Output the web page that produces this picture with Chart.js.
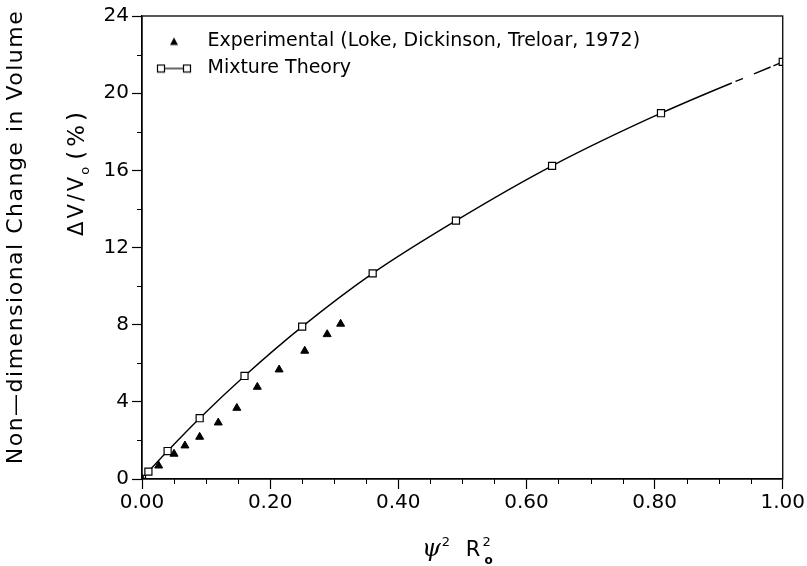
<!DOCTYPE html>
<html>
<head>
<meta charset="utf-8">
<script src="https://cdn.jsdelivr.net/npm/chart.js@4.4.0/dist/chart.umd.min.js"></script>
<style>
  html, body { margin: 0; padding: 0; background: #fff; }
</style>
</head>
<body>
<canvas id="volumeChart" width="807" height="566"></canvas>
<script>
// Mixture theory (open squares + line)
const theoryX = [0, 0.01, 0.04, 0.09, 0.16, 0.25, 0.36, 0.49, 0.64, 0.81, 1.00];
const theoryY = [0, 0.38, 1.45, 3.15, 5.34, 7.90, 10.66, 13.39, 16.23, 18.96, 21.62];

// Experimental (Loke, Dickinson, Treloar, 1972) - filled triangles
const expX = [0, 0.026, 0.050, 0.067, 0.090, 0.119, 0.148, 0.180, 0.214, 0.254, 0.289, 0.310];
const expY = [0, 0.69, 1.30, 1.73, 2.18, 2.92, 3.68, 4.77, 5.67, 6.64, 7.50, 8.04];

// axis ticks
const xTickValues = [0, 0.2, 0.4, 0.6, 0.8, 1.0];
const xTickLabels = ['0.00', '0.20', '0.40', '0.60', '0.80', '1.00'];
const yTickValues = [0, 4, 8, 12, 16, 20, 24];
const yTickLabels = ['0', '4', '8', '12', '16', '20', '24'];

const seriesNames = ['Experimental (Loke, Dickinson, Treloar, 1972)', 'Mixture Theory'];

const tickFont = { family: 'DejaVu Sans', size: 20 };

// legend icons
function triangleIcon() {
  const c = document.createElement('canvas');
  c.width = 10; c.height = 10;
  const g = c.getContext('2d');
  g.fillStyle = '#000';
  g.beginPath();
  g.moveTo(5, 1); g.lineTo(9, 8.5); g.lineTo(1, 8.5);
  g.closePath();
  g.fill();
  return c;
}

function theoryIcon() {
  const c = document.createElement('canvas');
  c.width = 36; c.height = 10;
  const g = c.getContext('2d');
  g.strokeStyle = '#000';
  g.lineWidth = 1.2;
  g.beginPath();
  g.moveTo(8, 5); g.lineTo(28, 5);
  g.stroke();
  g.fillStyle = '#fff';
  g.fillRect(1.5, 1.5, 7, 7); g.strokeRect(1.5, 1.5, 7, 7);
  g.fillRect(27.5, 1.5, 7, 7); g.strokeRect(27.5, 1.5, 7, 7);
  return c;
}

// frame, minor ticks and the axis titles
const decorations = {
  id: 'decorations',
  afterDraw(chart) {
    const { ctx, chartArea: a, scales } = chart;
    ctx.save();
    ctx.strokeStyle = '#000';
    ctx.lineWidth = 1.3;
    ctx.strokeRect(a.left, a.top, a.right - a.left, a.bottom - a.top);

    // minor ticks
    ctx.lineWidth = 1;
    ctx.beginPath();
    for (let i = 1; i < 20; i++) {
      if (i % 4 === 0) continue;
      const px = Math.round(scales.x.getPixelForValue(i * 0.05)) + 0.5;
      ctx.moveTo(px, a.bottom); ctx.lineTo(px, a.bottom + 5);
    }
    for (let v = 2; v < 24; v += 4) {
      const py = Math.round(scales.y.getPixelForValue(v)) + 0.5;
      ctx.moveTo(a.left, py); ctx.lineTo(a.left - 5, py);
    }
    ctx.stroke();

    ctx.fillStyle = '#000';
    ctx.textBaseline = 'middle';

    // outer y title
    ctx.save();
    ctx.translate(16, 237);
    ctx.rotate(-Math.PI / 2);
    ctx.font = '22px "DejaVu Sans"';
    ctx.letterSpacing = '1.5px';
    ctx.textAlign = 'center';
    ctx.fillText('Non\u2014dimensional Change in Volume', 0, 0);
    ctx.restore();

    // inner y title: dV/V0 (%)
    ctx.save();
    ctx.translate(78, 172);
    ctx.rotate(-Math.PI / 2);
    ctx.textAlign = 'left';
    ctx.letterSpacing = '3px';
    ctx.font = '21px "DejaVu Sans"';
    const p1 = '\u0394V/V', p3 = '(%)';
    const w1 = ctx.measureText(p1).width;
    ctx.letterSpacing = '4px';
    ctx.font = '23px "DejaVu Sans"';
    const w3 = ctx.measureText(p3).width;
    const w2 = 14;
    let x0 = -(w1 + w2 + w3) / 2;
    ctx.letterSpacing = '3px';
    ctx.font = '21px "DejaVu Sans"';
    ctx.fillText(p1, x0, 0);
    ctx.font = '13px "DejaVu Sans"';
    ctx.fillText('o', x0 + w1 - 1, 8);
    ctx.letterSpacing = '4px';
    ctx.font = '23px "DejaVu Sans"';
    ctx.fillText(p3, x0 + w1 + w2, 0);
    ctx.restore();

    // x title: psi^2 R^2_0
    ctx.textAlign = 'left';
    ctx.textBaseline = 'alphabetic';
    const base = 556;
    let x = 422;
    ctx.font = 'italic 24px "DejaVu Serif"';
    ctx.fillText('\u03c8', x, base);
    x += ctx.measureText('\u03c8').width + 1;
    ctx.font = '13px "DejaVu Sans"';
    ctx.fillText('2', x, base - 10);
    x += 24;
    ctx.font = '21px "DejaVu Sans"';
    ctx.fillText('R', x, base);
    x += ctx.measureText('R').width + 2;
    ctx.font = '13px "DejaVu Sans"';
    ctx.fillText('2', x, base - 10);
    ctx.font = 'bold 12px "DejaVu Sans"';
    ctx.fillText('o', x + 2, base + 8);
    ctx.restore();
  }
};

const ctx = document.getElementById('volumeChart').getContext('2d');
const volumeChart = new Chart(ctx, {
  type: 'scatter',
  data: {
    datasets: [
      {
        label: seriesNames[0],
        data: expX.map((v, i) => ({ x: v, y: expY[i] })),
        showLine: false,
        pointStyle: 'triangle',
        pointRadius: 4.6,
        backgroundColor: '#000',
        borderColor: '#000',
        borderWidth: 1
      },
      {
        label: seriesNames[1],
        data: theoryX.map((v, i) => ({ x: v, y: theoryY[i] })),
        showLine: true,
        cubicInterpolationMode: 'monotone',
        borderColor: '#000',
        borderWidth: 1.4,
        pointStyle: 'rect',
        pointRadius: 5,
        pointBackgroundColor: '#fff',
        pointBorderColor: '#000',
        pointBorderWidth: 1.2,
        segment: {
          // broken stretch of the plotted line near the right edge
          borderDash: c => c.p0DataIndex === theoryX.length - 2 ? [77, 4, 8, 12, 18, 3, 14] : undefined
        }
      }
    ]
  },
  options: {
    responsive: false,
    animation: false,
    devicePixelRatio: 1,
    layout: { padding: { top: 16, right: 24, left: 0, bottom: 0 } },
    plugins: {
      tooltip: { enabled: false },
      legend: {
        position: 'chartArea',
        align: 'start',
        title: { display: true, text: ' ', font: { size: 5 }, padding: { top: 18, bottom: 0 } },
        labels: {
          usePointStyle: true,
          pointStyleWidth: 48,
          boxHeight: 7,
          padding: 8,
          color: '#000',
          font: { family: 'DejaVu Sans', size: 19 },
          generateLabels: () => [
            { text: seriesNames[0], pointStyle: triangleIcon(), fontColor: '#000', fillStyle: '#000', strokeStyle: '#000', lineWidth: 1, datasetIndex: 0 },
            { text: seriesNames[1], pointStyle: theoryIcon(), fontColor: '#000', fillStyle: '#fff', strokeStyle: '#000', lineWidth: 1, datasetIndex: 1 }
          ]
        }
      }
    },
    scales: {
      x: {
        type: 'linear',
        min: 0,
        max: 1,
        afterBuildTicks: s => { s.ticks = xTickValues.map(v => ({ value: v })); },
        afterFit: s => { s.height = 87; },
        grid: { drawOnChartArea: false, drawTicks: true, tickLength: 10, tickColor: '#000', tickWidth: 1.2 },
        border: { display: true, color: '#000', width: 1.3 },
        ticks: {
          color: '#000',
          font: tickFont,
          padding: 2,
          maxRotation: 0,
          callback: (v, i) => xTickLabels[i]
        }
      },
      y: {
        type: 'linear',
        min: 0,
        max: 24,
        afterBuildTicks: s => { s.ticks = yTickValues.map(v => ({ value: v })); },
        afterFit: s => { s.width = 142; },
        grid: { drawOnChartArea: false, drawTicks: true, tickLength: 10, tickColor: '#000', tickWidth: 1.2 },
        border: { display: true, color: '#000', width: 1.3 },
        ticks: {
          color: '#000',
          font: tickFont,
          padding: 3,
          callback: (v, i) => yTickLabels[i]
        }
      }
    }
  },
  plugins: [decorations]
});
</script>
</body>
</html>
